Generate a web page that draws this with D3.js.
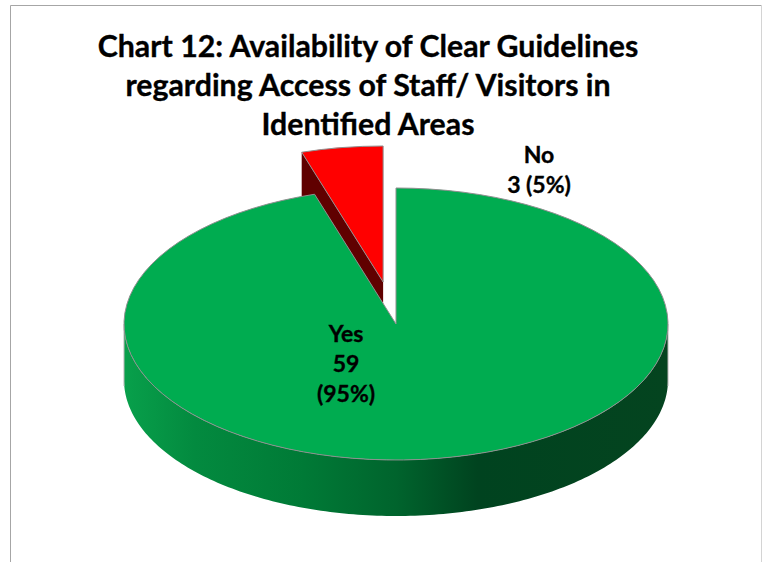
<!DOCTYPE html>
<html><head><meta charset="utf-8">
<script src="https://cdn.jsdelivr.net/npm/d3@7"></script>
<style>html,body{margin:0;padding:0;background:#fff}svg{display:block}text{font-family:Lato,"Open Sans",sans-serif;font-weight:700;fill:#000;stroke:#000;stroke-width:0.35px}</style>
</head><body><svg id="c" width="762" height="562"></svg>
<script>
const categories = ["Yes", "No"];
const values = [59, 3];
const percents = ["95%", "5%"];
const sliceColors = ["#00ac50", "#ff0000"];
const wallColors = ["#00ac50", "#600000"];
const titleLines = ["Chart 12: Availability of Clear Guidelines", "regarding Access of Staff/ Visitors in", "Identified Areas"];
const explode = [0, 85];

const W = 762, H = 562;
const cx = 396, cy = 324, rx = 272, tilt = 0.5, depth = 56;
const svg = d3.select("#c");

const defs = svg.append("defs");
const grad = defs.append("linearGradient").attr("id","wall").attr("gradientUnits","userSpaceOnUse")
  .attr("x1",cx-rx).attr("x2",cx+rx).attr("y1",0).attr("y2",0);
[[0,"#08a04b"],[0.13,"#038a3f"],[0.33,"#007a36"],[0.5,"#00642d"],[0.65,"#00431f"],[1,"#04441f"]]
  .forEach(s=>grad.append("stop").attr("offset",s[0]).attr("stop-color",s[1]));

// frame
svg.append("path").attr("d",`M10.5,${H}V5.5H761`).attr("fill","none").attr("stroke","#a6a6a6");
svg.append("path").attr("d",`M761.5,5V${H}`).attr("fill","none").attr("stroke","#d4d4d4");

const pie = d3.pie().sort(null).value(d=>d).startAngle(0).endAngle(2*Math.PI);
const arcs = pie(values);
const arc = d3.arc().innerRadius(0).outerRadius(rx);

const offset = (a,i)=>{const m=(a.startAngle+a.endAngle)/2;
  return [explode[i]*Math.sin(m), -explode[i]*tilt*Math.cos(m)];};
const pt = (t,o)=>[cx+o[0]+rx*Math.sin(t), cy+o[1]-rx*tilt*Math.cos(t)];

// red slice (drawn first: sits behind the green one)
[1,0].forEach(i=>{
  const a = arcs[i], o = offset(a,i);
  const g = svg.append("g");
  const c = [cx+o[0], cy+o[1]];
  if(i===1){
    [a.startAngle,a.endAngle].forEach(t=>{
      const p = pt(t,o);
      g.append("path").attr("fill",wallColors[1])
        .attr("d",d3.line()([c,p,[p[0],p[1]+depth],[c[0],c[1]+depth]])+"Z");
    });
  } else {
    const angs = d3.range(0,181).map(k=>Math.PI/2+k*Math.PI/180);
    const area = d3.area().x(t=>pt(t,o)[0]).y0(t=>pt(t,o)[1]).y1(t=>pt(t,o)[1]+depth);
    g.append("path").attr("d",area(angs)).attr("fill","url(#wall)");
    [Math.PI/2,3*Math.PI/2].forEach(t=>{
      const p = pt(t,o);
      g.append("path").attr("d",d3.line()([p,[p[0],p[1]+depth+6]]))
        .attr("fill","none").attr("stroke","#b5b5b5").attr("stroke-width",1);
    });
  }
  g.append("path").attr("d",arc(a))
    .attr("transform",`translate(${c[0]},${c[1]}) scale(1,${tilt})`)
    .attr("fill",sliceColors[i]).attr("stroke","#8f8f8f").attr("stroke-width",1)
    .style("vector-effect","non-scaling-stroke");
});

// title
svg.append("g").selectAll("text").data(titleLines).join("text")
  .attr("x",368).attr("y",(d,i)=>57+i*39).attr("text-anchor","middle")
  .attr("font-size",30.3).text(d=>d);

// labels
const lab = svg.append("g").attr("font-size",23).attr("text-anchor","middle");
[`${categories[0]}`,`${values[0]}`,`(${percents[0]})`].forEach((t,i)=>
  lab.append("text").attr("x",346).attr("y",342+i*30).text(t));
[`${categories[1]}`,`${values[1]} (${percents[1]})`].forEach((t,i)=>
  lab.append("text").attr("x",539).attr("y",162.5+i*30).text(t));
</script></body></html>
